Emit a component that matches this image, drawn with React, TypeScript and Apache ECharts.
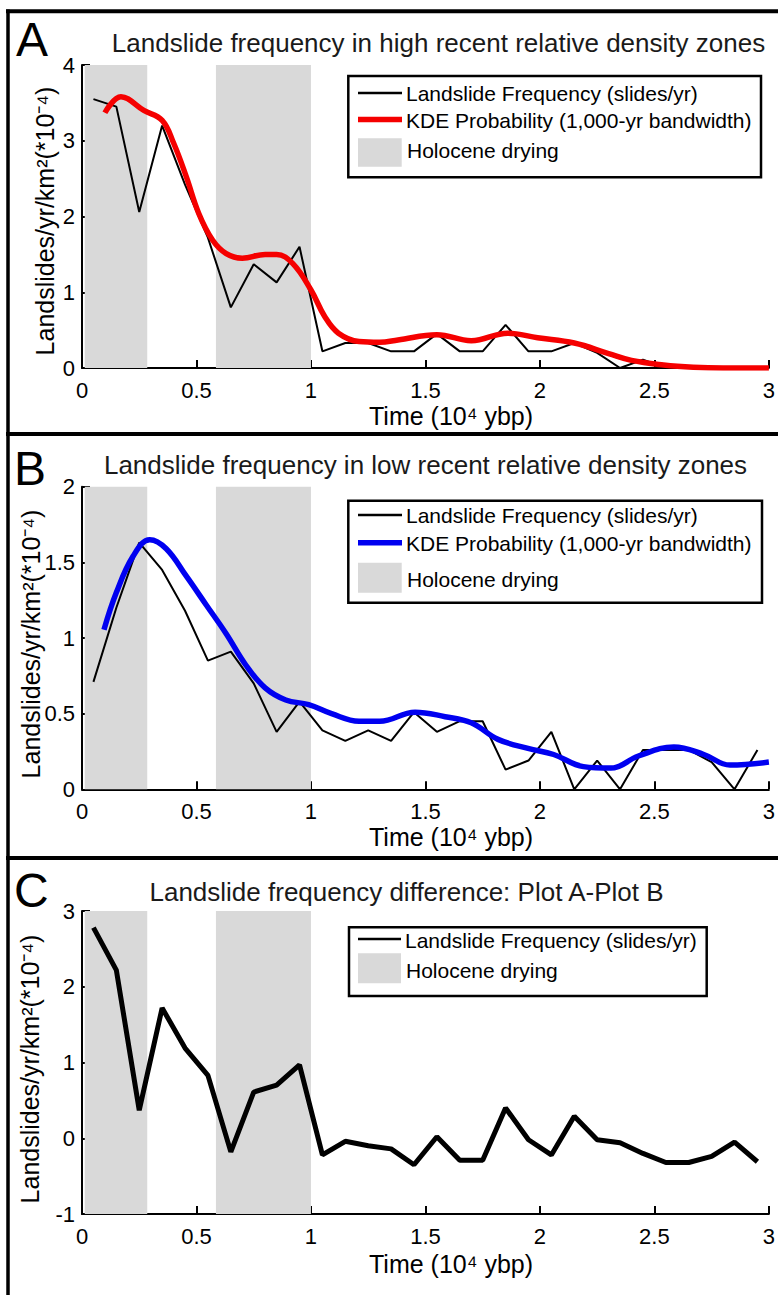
import React, { useEffect, useRef } from "react";
import * as echarts from "echarts";

// ---- data ----
const BIN_CENTERS = [0.05, 0.15, 0.25, 0.35, 0.45, 0.55, 0.65, 0.75, 0.85, 0.95, 1.05, 1.15, 1.25, 1.35, 1.45, 1.55, 1.65, 1.75, 1.85, 1.95, 2.05, 2.15, 2.25, 2.35, 2.45, 2.55, 2.65, 2.75, 2.85, 2.95];

const FREQ_HIGH = [3.55, 3.45, 2.06, 3.2, 2.42, 1.72, 0.8, 1.37, 1.13, 1.6, 0.22, 0.33, 0.33, 0.22, 0.22, 0.45, 0.22, 0.22, 0.57, 0.22, 0.22, 0.33, 0.2, 0.0, 0.11, 0.0, 0.0, 0.0, 0.0, 0.0];
const FREQ_LOW = [0.71, 1.2, 1.63, 1.45, 1.18, 0.85, 0.91, 0.7, 0.38, 0.58, 0.39, 0.32, 0.39, 0.32, 0.51, 0.38, 0.45, 0.45, 0.13, 0.19, 0.38, 0.0, 0.19, 0.0, 0.26, 0.26, 0.26, 0.18, 0.0, 0.26];
const FREQ_DIFF = [2.78, 2.22, 0.37, 1.72, 1.19, 0.83, -0.18, 0.61, 0.7, 0.97, -0.22, -0.04, -0.1, -0.14, -0.35, 0.02, -0.29, -0.29, 0.4, -0.02, -0.22, 0.29, -0.02, -0.06, -0.2, -0.32, -0.32, -0.24, -0.05, -0.31];

const KDE_HIGH_X = [0.1, 0.17, 0.27, 0.35, 0.4, 0.455, 0.51, 0.57, 0.63, 0.7, 0.8, 0.85, 0.92, 1.0, 1.06, 1.12, 1.21, 1.3, 1.38, 1.55, 1.7, 1.86, 1.99, 2.15, 2.3, 2.4, 2.54, 2.67, 2.8, 3.0];
const KDE_HIGH_Y = [3.37, 3.58, 3.4, 3.27, 2.97, 2.53, 2.04, 1.69, 1.51, 1.45, 1.5, 1.5, 1.38, 1.03, 0.68, 0.46, 0.35, 0.34, 0.37, 0.44, 0.36, 0.46, 0.4, 0.33, 0.19, 0.1, 0.04, 0.01, 0.0, 0.0];

const KDE_LOW_X = [0.096, 0.15, 0.223, 0.296, 0.368, 0.455, 0.542, 0.629, 0.716, 0.8, 0.89, 0.99, 1.09, 1.21, 1.3, 1.455, 1.586, 1.7, 1.817, 1.948, 2.06, 2.19, 2.31, 2.43, 2.585, 2.716, 2.83, 3.0];
const KDE_LOW_Y = [1.055, 1.3, 1.54, 1.65, 1.59, 1.41, 1.22, 1.03, 0.82, 0.67, 0.59, 0.56, 0.5, 0.45, 0.45, 0.51, 0.48, 0.44, 0.33, 0.27, 0.23, 0.15, 0.14, 0.22, 0.28, 0.23, 0.16, 0.18];

const DRYING_PERIODS = [
  [0.012, 0.285],
  [0.585, 1.0],
];

const TITLES = [
  "Landslide frequency in high recent relative density zones",
  "Landslide frequency in low recent relative density zones",
  "Landslide frequency difference: Plot A-Plot B",
];
const PANEL_LETTERS = ["A", "B", "C"];
const X_LABEL = "Time (10⁴ ybp)";
const Y_LABEL = "Landslides/yr/km²(*10⁻⁴)";
const LEG_FREQ = "Landslide Frequency (slides/yr)";
const LEG_KDE = "KDE Probability (1,000-yr bandwidth)";
const LEG_DRY = "Holocene drying";

const FONT = "'Liberation Sans', Arial, Helvetica, sans-serif";

const pairs = (xs: number[], ys: number[]) => xs.map((x, i) => [x, ys[i]]);

function txt(x: number, y: number, text: string, size: number, opts: any = {}) {
  return {
    type: "text",
    x,
    y,
    rotation: opts.rotation || 0,
    silent: true,
    z: 50,
    style: {
      text,
      fontSize: size,
      fontFamily: FONT,
      fill: opts.fill || "#000",
      align: opts.align || "left",
      verticalAlign: "middle",
      textAlign: opts.align || "left",
      textVerticalAlign: "middle",
    },
  };
}

function line(x1: number, y1: number, x2: number, y2: number, color: string, width: number) {
  return {
    type: "line",
    silent: true,
    z: 50,
    shape: { x1, y1, x2, y2 },
    style: { stroke: color, lineWidth: width },
  };
}

function rect(x: number, y: number, w: number, h: number, fill: string, stroke?: string, lw?: number) {
  return {
    type: "rect",
    silent: true,
    z: 49,
    shape: { x, y, width: w, height: h },
    style: { fill, stroke: stroke || null, lineWidth: lw || 0 },
  };
}

export default function App() {
  const ref = useRef<HTMLDivElement>(null);

  useEffect(() => {
    if (!ref.current) return;
    const chart = echarts.init(ref.current, null, { renderer: "svg" });

    const grids = [
      { left: 82, top: 65, width: 690, height: 303 },
      { left: 82, top: 486.7, width: 690, height: 302.6 },
      { left: 82, top: 911, width: 690, height: 303 },
    ];
    const yRanges = [
      { min: 0, max: 4, interval: 1 },
      { min: 0, max: 2, interval: 0.5 },
      { min: -1, max: 3, interval: 1 },
    ];

    const axisCommon = {
      axisLine: { show: true, onZero: false, lineStyle: { color: "#000", width: 2 } },
      axisTick: { show: true, inside: true, length: 8, lineStyle: { color: "#000", width: 2 } },
      splitLine: { show: false },
    };

    const xAxis = grids.map((_, i) => ({
      type: "value",
      gridIndex: i,
      min: 0,
      max: 3,
      interval: 0.5,
      ...axisCommon,
      axisLabel: { fontSize: 22, color: "#000", fontFamily: FONT, margin: 11.5 },
    }));
    const yAxis = grids.map((_, i) => ({
      type: "value",
      gridIndex: i,
      ...yRanges[i],
      ...axisCommon,
      axisLabel: { fontSize: 22, color: "#000", fontFamily: FONT, margin: 7 },
    }));

    const series: any[] = [];
    for (let i = 0; i < 3; i++) {
      series.push({
        type: "line",
        xAxisIndex: i,
        yAxisIndex: i,
        data: [],
        z: 1,
        silent: true,
        markArea: {
          silent: true,
          itemStyle: { color: "#d9d9d9" },
          data: DRYING_PERIODS.map(([a, b]) => [{ xAxis: a }, { xAxis: b }]),
        },
      });
    }
    series.push({
      type: "line",
      xAxisIndex: 0,
      yAxisIndex: 0,
      data: pairs(BIN_CENTERS, FREQ_HIGH),
      showSymbol: false,
      lineStyle: { color: "#000", width: 2 },
      z: 3,
    });
    series.push({
      type: "line",
      xAxisIndex: 0,
      yAxisIndex: 0,
      data: pairs(KDE_HIGH_X, KDE_HIGH_Y),
      showSymbol: false,
      smooth: 0.4,
      lineStyle: { color: "#f50000", width: 5.5 },
      z: 4,
    });
    series.push({
      type: "line",
      xAxisIndex: 1,
      yAxisIndex: 1,
      data: pairs(BIN_CENTERS, FREQ_LOW),
      showSymbol: false,
      lineStyle: { color: "#000", width: 2 },
      z: 3,
    });
    series.push({
      type: "line",
      xAxisIndex: 1,
      yAxisIndex: 1,
      data: pairs(KDE_LOW_X, KDE_LOW_Y),
      showSymbol: false,
      smooth: 0.4,
      lineStyle: { color: "#0000f0", width: 5.5 },
      z: 4,
    });
    series.push({
      type: "line",
      xAxisIndex: 2,
      yAxisIndex: 2,
      data: pairs(BIN_CENTERS, FREQ_DIFF),
      showSymbol: false,
      lineStyle: { color: "#000", width: 5 },
      z: 3,
    });

    const g: any[] = [];
    // frame
    g.push(line(8, 9.5, 8, 1295, "#000", 3.5));
    g.push(line(6, 11.3, 778, 11.3, "#000", 4));
    g.push(line(6, 434, 778, 434, "#000", 4));
    g.push(line(6, 858, 778, 858, "#000", 4));

    // panel letters
    g.push(txt(16, 39, PANEL_LETTERS[0], 48));
    g.push(txt(14, 468, PANEL_LETTERS[1], 48));
    g.push(txt(14, 890, PANEL_LETTERS[2], 48));

    // titles
    g.push(txt(438.5, 43.3, TITLES[0], 26, { align: "center", fill: "#1a1a1a" }));
    g.push(txt(425.5, 465.3, TITLES[1], 26, { align: "center", fill: "#1a1a1a" }));
    g.push(txt(406.5, 891.7, TITLES[2], 26, { align: "center", fill: "#1a1a1a" }));

    // x labels
    g.push(txt(451, 415.5, X_LABEL, 25, { align: "center" }));
    g.push(txt(451, 836.8, X_LABEL, 25, { align: "center" }));
    g.push(txt(451, 1264, X_LABEL, 25, { align: "center" }));

    // y labels
    g.push(txt(45, 221, Y_LABEL, 25, { align: "center", rotation: Math.PI / 2 }));
    g.push(txt(31, 644, Y_LABEL, 25, { align: "center", rotation: Math.PI / 2 }));
    g.push(txt(30, 1069, Y_LABEL, 25, { align: "center", rotation: Math.PI / 2 }));

    // legend A
    g.push(rect(348.3, 76, 412.7, 101.3, "#fff", "#000", 2.5));
    g.push(line(358, 93, 402, 93, "#000", 2.5));
    g.push(txt(406, 93.3, LEG_FREQ, 21));
    g.push(line(358, 119.5, 402, 119.5, "#f50000", 5.5));
    g.push(txt(406, 120.8, LEG_KDE, 21));
    g.push({ ...rect(358, 138.3, 43.7, 28.4, "#d9d9d9"), z: 50 });
    g.push(txt(407, 150.8, LEG_DRY, 21));

    // legend B
    g.push(rect(348.3, 500.7, 413.7, 102, "#fff", "#000", 2.5));
    g.push(line(358, 515, 402, 515, "#000", 2.5));
    g.push(txt(406, 515, LEG_FREQ, 21));
    g.push(line(358, 542.7, 402, 542.7, "#0000f0", 5.5));
    g.push(txt(406, 543.3, LEG_KDE, 21));
    g.push({ ...rect(358, 562.7, 43.7, 30, "#d9d9d9"), z: 50 });
    g.push(txt(407, 579, LEG_DRY, 21));

    // legend C
    g.push(rect(349, 927.3, 357.7, 68.7, "#fff", "#000", 2.5));
    g.push(line(358, 939, 401, 939, "#000", 2.5));
    g.push(txt(405, 940.8, LEG_FREQ, 21));
    g.push({ ...rect(358, 953.3, 43, 30, "#d9d9d9"), z: 50 });
    g.push(txt(406, 970.8, LEG_DRY, 21));

    chart.setOption({
      animation: false,
      backgroundColor: "#fff",
      grid: grids,
      xAxis,
      yAxis,
      series,
      graphic: g,
    });

    return () => chart.dispose();
  }, []);

  return (
    <div
      ref={ref}
      style={{ position: "absolute", left: 0, top: 0, width: 778, height: 1295, background: "#fff" }}
    />
  );
}
